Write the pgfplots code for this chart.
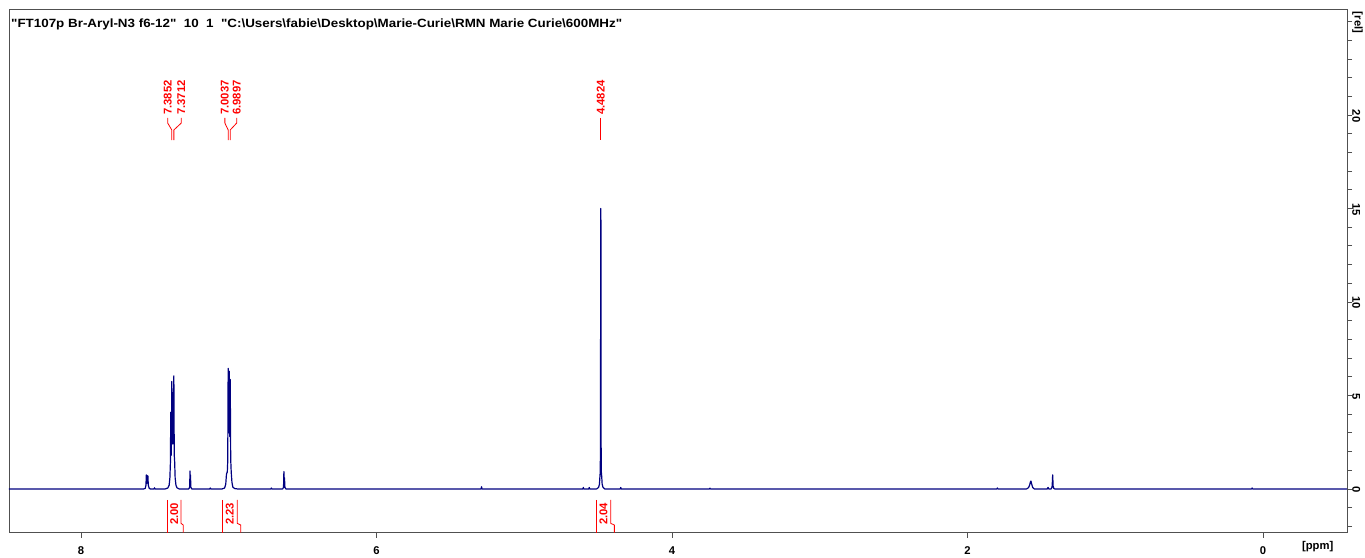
\documentclass[border=0pt]{standalone}
\usepackage{fontspec}
\setmainfont{Liberation Sans}
\newfontfamily\titlefont[FakeStretch=1.12]{Liberation Sans}
\usepackage{pgfplots}
\pgfplotsset{compat=1.18}

\definecolor{specblue}{RGB}{0,0,128}
\definecolor{peakred}{RGB}{255,0,0}
\definecolor{framegray}{RGB}{80,80,80}

\newcommand{\lbl}{\bfseries\fontsize{11.3}{13}\selectfont}
\newcommand{\q}{\char34 }

\begin{document}
\begin{tikzpicture}
\path[use as bounding box] (0bp,0bp) rectangle (1365bp,558bp);
\begin{axis}[
  at={(9bp,25.5bp)}, anchor=south west,
  width=1338bp, height=523.5bp, scale only axis,
  x dir=reverse,
  xmin=-0.5685, xmax=8.487, ymin=-2.33, ymax=25.67,
  axis line style={framegray, line width=0.8bp},
  every tick/.style={framegray, line width=0.8bp},
  tick align=outside,
  major tick length=5bp, minor tick length=5bp,
  xtick pos=bottom, ytick pos=right,
  xtick={0,2,4,6,8},
  extra x ticks={-0.37},
  extra x tick labels={[ppm]},
  extra x tick style={major tick length=0pt},
  ytick={0,5,10,15,20,25},
  yticklabels={0,5,10,15,20,[rel]},
  minor ytick={-2,-1,...,25},
  /pgf/number format/assume math mode=true,
  xticklabel style={font=\lbl, anchor=base, inner sep=0pt, yshift=-17bp},
  yticklabel style={font=\lbl, rotate=-90, anchor=south, inner sep=0pt, xshift=1bp},
  clip=false,
]

% 1H spectrum trace
\addplot[specblue, line width=1.2bp, line join=round] coordinates {
  (8.487,0) (7.575,0) (7.565,0.03) (7.560,0.2) (7.5575,0.75) (7.555,0.3)
  (7.5525,0.72) (7.5495,0.3) (7.547,0.7) (7.544,0.2) (7.538,0.03) (7.53,0)
  (7.505,0) (7.502,0.06) (7.499,0)
  (7.43,0) (7.412,0.05) (7.403,0.2) (7.398,0.6) (7.3945,1.4) (7.392,4.1)
  (7.3895,1.8) (7.3875,2.6) (7.3852,5.75) (7.3785,2.4) (7.3712,6.05)
  (7.3685,1.8) (7.366,1.5) (7.3625,0.6) (7.357,0.2) (7.35,0.06) (7.335,0)
  (7.27,0) (7.2645,0.1) (7.2615,0.96) (7.2600,0.4) (7.2585,0.75) (7.2565,0.1) (7.25,0)
  (7.128,0) (7.125,0.05) (7.122,0)
  (7.045,0) (7.028,0.05) (7.02,0.25) (7.015,0.8) (7.0125,0.85) (7.0095,0.9)
  (7.0065,1.5) (7.0037,6.45) (7.0005,3.0) (6.9965,6.3) (6.993,2.8) (6.9897,5.85)
  (6.9865,1.6) (6.983,0.9) (6.978,0.35) (6.972,0.1) (6.96,0.02) (6.94,0)
  (6.714,0) (6.711,0.05) (6.708,0)
  (6.635,0) (6.629,0.08) (6.6265,0.93) (6.6245,0.3) (6.6225,0.6) (6.6195,0.08) (6.613,0)
  (5.292,0) (5.289,0.12) (5.286,0)
  (4.603,0) (4.600,0.08) (4.597,0)
  (4.563,0) (4.560,0.08) (4.557,0)
  (4.51,0) (4.497,0.08) (4.491,0.25) (4.4875,0.7) (4.4855,0.9) (4.4838,2.5)
  (4.4824,15.0) (4.4812,14.8) (4.4798,2.5) (4.478,0.9) (4.476,0.7) (4.4725,0.25)
  (4.4665,0.08) (4.455,0)
  (4.350,0) (4.347,0.08) (4.344,0)
  (3.746,0) (3.743,0.04) (3.740,0)
  (1.801,0) (1.798,0.05) (1.795,0)
  (1.60,0) (1.587,0.07) (1.579,0.22) (1.5735,0.4) (1.5705,0.42) (1.5665,0.28)
  (1.559,0.08) (1.548,0)
  (1.46,0) (1.455,0.08) (1.45,0)
  (1.434,0) (1.428,0.1) (1.4255,0.4) (1.4238,0.75) (1.4222,0.45) (1.4205,0.15)
  (1.416,0.03) (1.41,0)
  (0.077,0) (0.074,0.05) (0.071,0)
  (-0.5685,0)
};

% peak picking: connectors from labels to peaks
\addplot[peakred, line width=0.8bp] coordinates {(7.413,19.84) (7.413,19.57) (7.3852,19.2) (7.3852,18.66)};
\addplot[peakred, line width=0.8bp] coordinates {(7.321,19.84) (7.321,19.57) (7.3712,19.2) (7.3712,18.66)};
\addplot[peakred, line width=0.8bp] coordinates {(7.026,19.84) (7.026,19.57) (7.0037,19.2) (7.0037,18.66)};
\addplot[peakred, line width=0.8bp] coordinates {(6.946,19.84) (6.946,19.57) (6.9897,19.2) (6.9897,18.66)};
\addplot[peakred, line width=0.8bp] coordinates {(4.4824,19.84) (4.4824,18.66)};

\node[rotate=90, anchor=west, inner sep=0pt, text=peakred, font=\lbl] at (axis cs:7.413,20.0) {7.3852};
\node[rotate=90, anchor=west, inner sep=0pt, text=peakred, font=\lbl] at (axis cs:7.321,20.0) {7.3712};
\node[rotate=90, anchor=west, inner sep=0pt, text=peakred, font=\lbl] at (axis cs:7.026,20.0) {7.0037};
\node[rotate=90, anchor=west, inner sep=0pt, text=peakred, font=\lbl] at (axis cs:6.946,20.0) {6.9897};
\node[rotate=90, anchor=west, inner sep=0pt, text=peakred, font=\lbl] at (axis cs:4.4824,20.0) {4.4824};

% integrals
\addplot[peakred, line width=0.8bp] coordinates {(7.413,-0.59) (7.413,-2.33)};
\addplot[peakred, line width=0.8bp] coordinates {(7.323,-0.59) (7.323,-1.84) (7.308,-1.93) (7.308,-2.33)};
\addplot[peakred, line width=0.8bp] coordinates {(7.044,-0.59) (7.044,-2.33)};
\addplot[peakred, line width=0.8bp] coordinates {(6.942,-0.59) (6.942,-1.84) (6.919,-1.93) (6.919,-2.33)};
\addplot[peakred, line width=0.8bp] coordinates {(4.512,-0.59) (4.512,-2.33)};
\addplot[peakred, line width=0.8bp] coordinates {(4.415,-0.59) (4.415,-1.84) (4.390,-1.93) (4.390,-2.33)};

\node[rotate=90, inner sep=0pt, text=peakred, font=\lbl] at (axis cs:7.369,-1.34) {2.00};
\node[rotate=90, inner sep=0pt, text=peakred, font=\lbl] at (axis cs:6.993,-1.34) {2.23};
\node[rotate=90, inner sep=0pt, text=peakred, font=\lbl] at (axis cs:4.4636,-1.34) {2.04};

\end{axis}

\node[anchor=base west, inner sep=0pt, font=\titlefont\bfseries\fontsize{12}{14}\selectfont] at (11bp,530bp)
  {\q FT107p Br-Aryl-N3 f6-12\q\ \ 10\ \ 1\ \ \q C:\textbackslash Users\textbackslash fabie\textbackslash Desktop\textbackslash Marie-Curie\textbackslash RMN Marie Curie\textbackslash 600MHz\q};
\end{tikzpicture}
\end{document}
